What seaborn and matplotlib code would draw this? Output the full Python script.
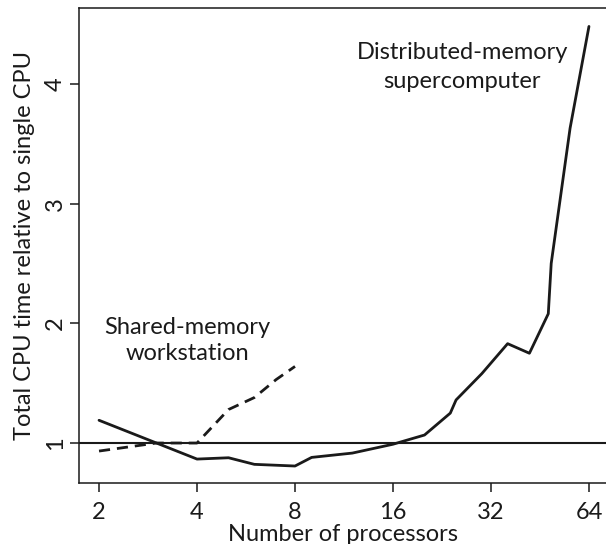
import seaborn as sns
import pandas as pd
import matplotlib.pyplot as plt

# ----------------------------------------------------------
# data
# ----------------------------------------------------------
dist_procs = [2, 4, 5, 6, 8, 9, 12, 16, 20, 24, 25, 30, 36, 42, 48, 49, 56, 64]
dist_time = [1.19, 0.866, 0.877, 0.822, 0.808, 0.88, 0.916, 0.99, 1.067,
             1.25, 1.36, 1.58, 1.83, 1.75, 2.08, 2.50, 3.63, 4.48]

shared_procs = [2, 3, 4, 5, 6, 7, 8]
shared_time = [0.933, 1.0, 1.0, 1.28, 1.38, 1.53, 1.64]

xticks = [2, 4, 8, 16, 32, 64]
yticks = [1, 2, 3, 4]

# ----------------------------------------------------------
# style
# ----------------------------------------------------------
sns.set_theme(style='ticks')
plt.rcParams['font.family'] = ['Lato', 'DejaVu Sans']
fs = 17
ink = '#1a1a1a'

dist = pd.DataFrame({'procs': dist_procs, 'time': dist_time})
shared = pd.DataFrame({'procs': shared_procs, 'time': shared_time})

# ----------------------------------------------------------
# main
# ----------------------------------------------------------
fig = plt.figure(figsize=(6.06, 5.44), dpi=100)
ax = fig.add_axes([0.1304, 0.1121, 0.8696, 0.8732])

ax.axhline(1, color=ink, lw=1.5, zorder=1)
sns.lineplot(data=dist, x='procs', y='time', ax=ax, color=ink, lw=2.0,
             estimator=None, sort=False)
sns.lineplot(data=shared, x='procs', y='time', ax=ax, color=ink, lw=2.0,
             estimator=None, sort=False, dashes=False)
ax.lines[-1].set_dashes([4, 2.5])

ax.set_xscale('log', base=2)
ax.set_xlim(1.736, 72.2)
ax.set_ylim(0.666, 4.634)
ax.set_xticks(xticks)
ax.set_xticklabels([str(t) for t in xticks])
ax.minorticks_off()
ax.set_yticks(yticks)
ax.set_yticklabels([str(t) for t in yticks], rotation=90, va='center')

for s in ['left', 'bottom', 'top']:
    ax.spines[s].set_linewidth(1.1)
    ax.spines[s].set_color(ink)
ax.spines['right'].set_visible(False)
ax.tick_params(direction='out', length=6.5, width=1.1, color=ink,
               labelsize=fs, labelcolor=ink)
ax.tick_params(axis='x', pad=7)
ax.tick_params(axis='y', pad=3)

ax.text(3.73, 1.86, 'Shared-memory\nworkstation', ha='center', va='center',
        fontsize=fs, color=ink, linespacing=1.3)
ax.text(26.1, 4.14, 'Distributed-memory\nsupercomputer', ha='center',
        va='center', fontsize=fs, color=ink, linespacing=1.45)

ax.set_xlabel('Number of processors', fontsize=fs, color=ink, labelpad=1)
ax.set_ylabel('Total CPU time relative to single CPU', fontsize=fs,
              color=ink, labelpad=7)

plt.savefig('out.png', dpi=100)
plt.close()
